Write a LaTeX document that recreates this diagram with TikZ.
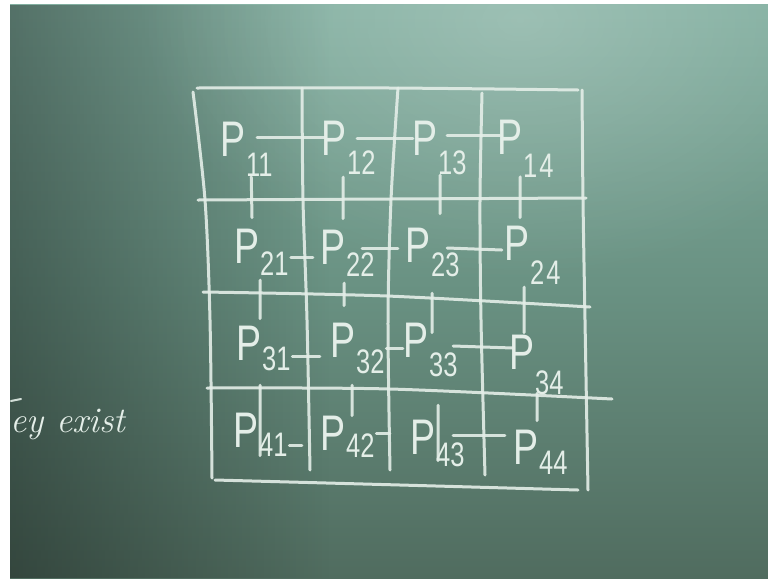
\documentclass[tikz,border=0pt]{standalone}
\usepackage{fontspec}
\newfontfamily\chalkfont[FakeStretch=0.75]{Liberation Sans}
\usetikzlibrary{fadings}
\definecolor{chalk}{RGB}{228,238,232}
\definecolor{bdtop}{RGB}{130,175,160}
\definecolor{bdmid}{RGB}{105,145,130}
\definecolor{bdbot}{RGB}{80,108,95}
\tikzfading[name=softglow, inner color=transparent!0, outer color=transparent!100]
\begin{document}
\begin{tikzpicture}[x=1pt,y=-1pt,
  chalkline/.style={draw=chalk, line width=3pt, line cap=round, line join=round, opacity=0.9},
  pnode/.style={inner sep=0pt, text=chalk, font=\chalkfont\fontsize{50}{50}\selectfont},
  snode/.style={inner sep=0pt, anchor=west, text=chalk, font=\chalkfont\fontsize{34}{34}\selectfont}]
\useasboundingbox (0,0) rectangle (768,579);
\fill[white] (0,0) rectangle (768,579);
\begin{scope}
\clip (10,4) rectangle (768,578);
\shade[top color=bdtop, bottom color=bdbot, middle color=bdmid] (10,4) rectangle (768,578);
\fill[black, opacity=0.35, path fading=east] (10,4) rectangle (330,578);
\fill[white, opacity=0.22, path fading=softglow] (520,20) ellipse [x radius=380, y radius=260];
\end{scope}
% grid
\draw[chalkline] plot[smooth] coordinates {(197,88) (390,88) (578,90)};
\draw[chalkline] plot[smooth] coordinates {(193,92) (205,200) (210,320) (212,478)};
\draw[chalkline] plot[smooth] coordinates {(302,88) (303,200) (307,320) (310,470)};
\draw[chalkline] plot[smooth] coordinates {(398,88) (391,200) (388,320) (390,470)};
\draw[chalkline] plot[smooth] coordinates {(482,93) (480,200) (481,320) (485,475)};
\draw[chalkline] plot[smooth] coordinates {(582,90) (583,200) (585,320) (588,490)};
\draw[chalkline] plot[smooth] coordinates {(198,200) (390,199) (586,198)};
\draw[chalkline] plot[smooth] coordinates {(203,292) (387,296) (590,307)};
\draw[chalkline] plot[smooth] coordinates {(207,388) (390,389) (612,399)};
\draw[chalkline] plot[smooth] coordinates {(215,480) (400,485) (578,490)};
% labels
\node[pnode] (p11) at (233,139) {P}; \node[snode] (s11) at (246,165) {11};
\node[pnode] (p12) at (334,138) {P}; \node[snode] (s12) at (347,163) {12};
\node[pnode] (p13) at (425,138) {P}; \node[snode] (s13) at (438,163) {13};
\node[pnode] (p14) at (510,137) {P}; \node[snode] (s14) at (523,166) {1\kern2pt4};
\node[pnode] (p21) at (247,246) {P}; \node[snode] (s21) at (260,264) {21};
\node[pnode] (p22) at (333,247) {P}; \node[snode] (s22) at (346,265) {22};
\node[pnode] (p23) at (418,245) {P}; \node[snode] (s23) at (431,265) {23};
\node[pnode] (p24) at (517,243) {P}; \node[snode] (s24) at (530,273) {2\kern2pt4};
\node[pnode] (p31) at (249,343) {P}; \node[snode] (s31) at (262,359) {31};
\node[pnode] (p32) at (343,340) {P}; \node[snode] (s32) at (356,362) {32};
\node[pnode] (p33) at (416,340) {P}; \node[snode] (s33) at (429,365) {33};
\node[pnode] (p34) at (522,352) {P}; \node[snode] (s34) at (535,383) {34};
\node[pnode] (p41) at (246,430) {P}; \node[snode] (s41) at (259,445) {41};
\node[pnode] (p42) at (333,433) {P}; \node[snode] (s42) at (346,446) {42};
\node[pnode] (p43) at (423,437) {P}; \node[snode] (s43) at (436,455) {43};
\node[pnode] (p44) at (526,447) {P}; \node[snode] (s44) at (539,463) {44};
% horizontal connectors
\draw[chalkline] ([shift={(11.5,-2)}]p11.east) -- ([shift={(3.5,-1)}]p12.west);
\draw[chalkline] ([shift={(10.5,0)}]p12.east) -- ([shift={(0.5,0)}]p13.west);
\draw[chalkline] ([shift={(9.5,-3)}]p13.east) -- ([shift={(2.5,-2)}]p14.west);
\draw[chalkline] ([shift={(2,-7)}]s21.east) -- ([shift={(-7.5,10)}]p22.west);
\draw[chalkline] ([shift={(16.5,1)}]p22.east) -- ([shift={(-7.5,3)}]p23.west);
\draw[chalkline] ([shift={(16.5,3)}]p23.east) -- ([shift={(-2.5,7)}]p24.west);
\draw[chalkline] ([shift={(1.6,-3)}]s31.east) -- ([shift={(-10.5,16)}]p32.west);
\draw[chalkline] ([shift={(1.6,-14)}]s32.east) -- ([shift={(-0.5,8)}]p33.west);
\draw[chalkline] ([shift={(24.5,6)}]p33.east) -- ([shift={(3.5,-4)}]p34.west);
\draw[chalkline] ([shift={(1.6,0)}]s41.east) -- ([shift={(-18.5,12)}]p42.west);
\draw[chalkline] ([shift={(1.6,-13)}]s42.east) -- ([shift={(-20.5,-4)}]p43.west);
\draw[chalkline] ([shift={(17.5,-2)}]p43.east) -- ([shift={(-8.5,-12)}]p44.west);
% vertical connectors
\draw[chalkline] ([shift={(-8.2,0)}]s11.south) -- ([shift={(5,-11)}]p21.north);
\draw[chalkline] ([shift={(-14.2,4)}]s21.south) -- ([shift={(11,-7)}]p31.north);
\draw[chalkline] ([shift={(-16.2,14)}]s31.south) -- ([shift={(14,43)}]p41.north);
\draw[chalkline] ([shift={(-18.2,2)}]s12.south) -- ([shift={(10,-11)}]p22.north);
\draw[chalkline] ([shift={(-16.2,6)}]s22.south) -- ([shift={(1,-17)}]p32.north);
\draw[chalkline] ([shift={(-18.2,11)}]s32.south) -- ([shift={(19,0)}]p42.north);
\draw[chalkline] ([shift={(-12.2,0)}]s13.south) -- ([shift={(22,-14)}]p23.north);
\draw[chalkline] ([shift={(-13.2,16)}]s23.south) -- ([shift={(16,10)}]p33.north);
\draw[chalkline] ([shift={(-5.2,28)}]s33.south) -- ([shift={(15,41)}]p43.north);
\draw[chalkline] ([shift={(-18.2,-1)}]s14.south) -- ([shift={(3,-8)}]p24.north);
\draw[chalkline] ([shift={(-21.2,2)}]s24.south) -- ([shift={(2,-2)}]p34.north);
\draw[chalkline] ([shift={(-12.2,-2)}]s34.south) -- ([shift={(11,-9)}]p44.north);
% side text
\node[anchor=base west, inner sep=0pt, text=chalk, font=\fontsize{36}{36}\selectfont\itshape] (txt) at (10,432) {ey exist};
\draw[chalkline, line width=2pt] (11,401) -- (21,399);
\end{tikzpicture}
\end{document}
